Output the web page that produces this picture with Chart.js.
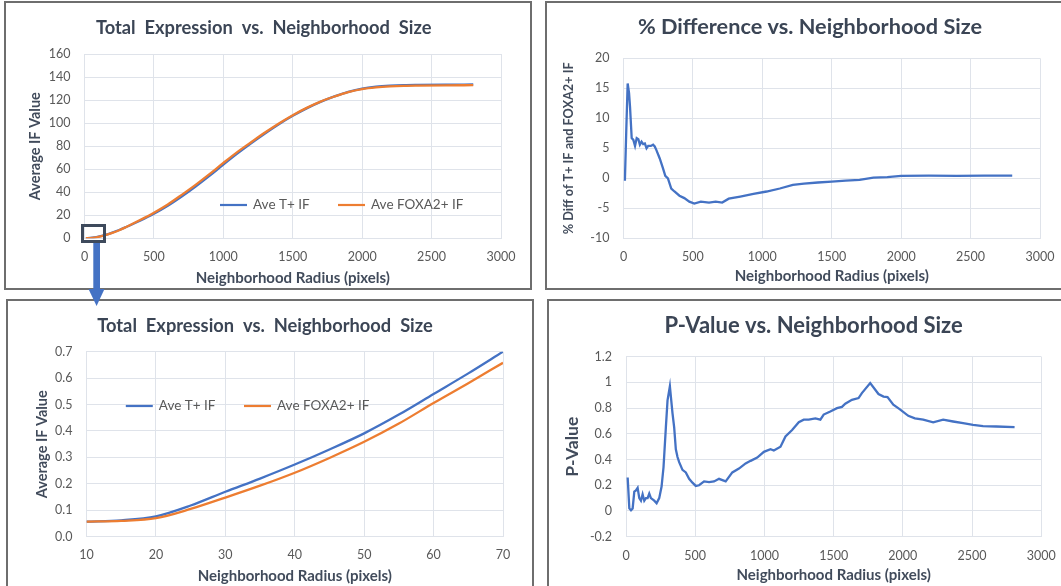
<!DOCTYPE html>
<html>
<head>
<meta charset="utf-8">
<script src="https://cdn.jsdelivr.net/npm/chart.js@4.4.1/dist/chart.umd.min.js"></script>
<style>
  html, body { margin: 0; padding: 0; background: #fff; width: 1061px; height: 586px; overflow: hidden; }
  .panel { position: absolute; box-sizing: border-box; border: 2px solid #6e6e6e; background: #fff; }
  .panel canvas { position: absolute; left: 0; top: 0; }
  #overlay { position: absolute; left: 0; top: 0; pointer-events: none; }
</style>
</head>
<body>
<div class="panel" style="left:4px;top:1px;width:528px;height:289px"><canvas id="totalChart" width="524" height="285"></canvas></div>
<div class="panel" style="left:545px;top:1px;width:530px;height:289px"><canvas id="diffChart" width="526" height="285"></canvas></div>
<div class="panel" style="left:6px;top:299px;width:528px;height:300px"><canvas id="zoomChart" width="524" height="296"></canvas></div>
<div class="panel" style="left:547px;top:299px;width:530px;height:300px"><canvas id="pvalChart" width="526" height="296"></canvas></div>
<svg id="overlay" width="1061" height="586">
  <rect x="82.5" y="225.5" width="22" height="16" fill="none" stroke="#3e4a5c" stroke-width="3"></rect>
  <rect x="93.3" y="243" width="6.7" height="47" fill="#4472c4"></rect>
  <polygon points="88.5,289 104.5,289 96.6,306" fill="#4472c4"></polygon>
</svg>
<script>
// Total expression, full range
const TOTAL_RADIUS = [10, 40, 70, 100, 150, 200, 250, 300, 400, 500, 600, 700, 800, 900, 1000, 1100,
  1200, 1300, 1400, 1500, 1600, 1700, 1800, 1900, 2000, 2100, 2200, 2300, 2400, 2600, 2800];
const TOTAL_T = [0.06, 0.27, 0.70, 1.4, 3.0, 5.0, 7.2, 9.8, 15.3, 21.3, 28.2, 36.2, 44.9, 54.2, 64.0, 73.5,
  82.5, 91.0, 99.0, 106.3, 112.8, 118.4, 123.2, 127.2, 130.0, 131.6, 132.5, 133.0, 133.2, 133.4, 133.5];
const TOTAL_FOXA2 = [0.06, 0.24, 0.66, 1.32, 2.84, 4.74, 6.96, 9.78, 15.8, 22.2, 29.35, 37.7, 46.4, 55.7, 65.4, 74.8,
  83.4, 91.8, 99.7, 106.9, 113.25, 118.7, 123.1, 126.95, 129.5, 131.0, 131.9, 132.4, 132.6, 132.8, 132.9];

// Total expression, 10-70 px close-up
const ZOOM_RADIUS = [10, 15, 20, 25, 30, 35, 40, 45, 50, 55, 60, 65, 70];
const ZOOM_T = [0.057, 0.062, 0.077, 0.118, 0.170, 0.220, 0.273, 0.330, 0.391, 0.462, 0.540, 0.618, 0.700];
const ZOOM_FOXA2 = [0.057, 0.060, 0.070, 0.105, 0.148, 0.193, 0.242, 0.298, 0.359, 0.428, 0.506, 0.581, 0.658];

// % difference
const DIFF_RADIUS = [10, 20, 30, 40, 47, 59, 71, 83, 95, 107, 118, 130, 142, 154, 166, 178, 197, 213, 225, 237,
  261, 284, 301, 320, 344, 367, 403, 438, 474, 510, 557, 616, 664, 711, 758, 841, 936, 1031, 1126, 1220,
  1300, 1400, 1500, 1600, 1700, 1800, 1900, 2000, 2200, 2400, 2600, 2800];
const DIFF_PCT = [-0.4, 8.0, 15.8, 14.2, 11.9, 6.7, 6.4, 5.4, 6.7, 6.5, 5.6, 6.1, 5.7, 5.8, 5.0, 5.4, 5.4, 5.6, 5.3, 4.7,
  3.3, 1.7, 0.4, 0.0, -1.7, -2.2, -2.9, -3.3, -3.9, -4.2, -3.9, -4.05, -3.9, -4.05, -3.4, -3.05, -2.6, -2.2, -1.7, -1.1,
  -0.9, -0.7, -0.55, -0.4, -0.25, 0.1, 0.2, 0.4, 0.45, 0.4, 0.45, 0.45];

// P-value
const PVAL_RADIUS = [12, 24, 36, 48, 60, 72, 84, 96, 108, 120, 132, 144, 156, 168, 180, 204, 221, 240, 257, 271,
  288, 300, 317, 336, 348, 360, 372, 384, 408, 432, 456, 480, 504, 528, 564, 600, 636, 672, 720, 768,
  816, 864, 900, 948, 996, 1044, 1068, 1116, 1152, 1200, 1248, 1284, 1320, 1368, 1404, 1428, 1476, 1524,
  1560, 1584, 1632, 1680, 1704, 1764, 1824, 1860, 1889, 1931, 1979, 2039, 2087, 2147, 2219, 2291, 2363,
  2435, 2507, 2579, 2675, 2807];
const PVAL = [0.26, 0.02, 0.005, 0.02, 0.15, 0.16, 0.18, 0.10, 0.08, 0.13, 0.08, 0.10, 0.10, 0.135, 0.10, 0.08, 0.06, 0.10, 0.19, 0.34,
  0.65, 0.86, 0.97, 0.76, 0.65, 0.48, 0.42, 0.38, 0.32, 0.30, 0.25, 0.22, 0.195, 0.20, 0.23, 0.225, 0.23, 0.25, 0.23, 0.30,
  0.33, 0.37, 0.39, 0.415, 0.46, 0.48, 0.47, 0.50, 0.58, 0.63, 0.69, 0.71, 0.71, 0.72, 0.71, 0.75, 0.774, 0.80,
  0.81, 0.834, 0.865, 0.878, 0.917, 0.995, 0.91, 0.89, 0.886, 0.826, 0.79, 0.74, 0.72, 0.71, 0.69, 0.71, 0.696,
  0.683, 0.67, 0.66, 0.657, 0.652];

// axis ticks
const RADIUS_TICKS = [0, 500, 1000, 1500, 2000, 2500, 3000];
const ZOOM_RADIUS_TICKS = [10, 20, 30, 40, 50, 60, 70];
const TOTAL_Y_TICKS = [0, 20, 40, 60, 80, 100, 120, 140, 160];
const ZOOM_Y_TICKS = [0, 0.1, 0.2, 0.3, 0.4, 0.5, 0.6, 0.7];
const ZOOM_Y_LABELS = ['0.0', '0.1', '0.2', '0.3', '0.4', '0.5', '0.6', '0.7'];
const DIFF_Y_TICKS = [-10, -5, 0, 5, 10, 15, 20];
const PVAL_Y_TICKS = [-0.2, 0, 0.2, 0.4, 0.6, 0.8, 1, 1.2];
const PVAL_Y_LABELS = ['-0.2', '0', '0.2', '0.4', '0.6', '0.8', '1', '1.2'];

const FONT = 'Lato, "Open Sans", sans-serif';
const TITLE_COLOR = '#3b4555';
const AXIS_TITLE_COLOR = '#414b5b';
const TICK_COLOR = '#595959';
const GRID_COLOR = '#dfe3ea';
const BLUE = '#4472c4';
const ORANGE = '#ed7d31';
const TICK_SIZE = 12.5;
const X_TITLE_SIZE = 15;

function toPoints(xs, ys) {
  return xs.map((x, i) => ({ x, y: ys[i] }));
}

// chart title placed at a fixed spot, and a legend drawn inside the plot area
const panelDecor = {
  id: 'panelDecor',
  afterDraw(chart, args, opts) {
    const { ctx, chartArea } = chart;
    ctx.save();
    ctx.textBaseline = 'middle';
    ctx.textAlign = 'center';
    ctx.fillStyle = TITLE_COLOR;
    ctx.font = 'bold ' + opts.titleSize + 'px ' + FONT;
    ctx.fillText(opts.title, opts.titleX, opts.titleY);

    if (opts.legend) {
      const lg = opts.legend;
      const y = chartArea.top + lg.y;
      ctx.textAlign = 'left';
      ctx.font = lg.size + 'px ' + FONT;
      ctx.fillStyle = TICK_COLOR;
      for (const item of lg.items) {
        const ds = chart.data.datasets[item.dataset];
        const x = chartArea.left + item.x;
        ctx.strokeStyle = ds.borderColor;
        ctx.lineWidth = 2.2;
        ctx.beginPath();
        ctx.moveTo(x, y);
        ctx.lineTo(x + 27, y);
        ctx.stroke();
        ctx.fillText(ds.label, x + 33, y);
      }
    }
    ctx.restore();
  },
};

function lineSet(label, xs, ys, color, order, smooth) {
  return {
    label,
    data: toPoints(xs, ys),
    borderColor: color,
    backgroundColor: color,
    borderWidth: 2.3,
    pointRadius: 0,
    order,
    cubicInterpolationMode: smooth ? 'monotone' : 'default',
    tension: 0,
  };
}

function makePanel(canvasId, p) {
  const canvas = document.getElementById(canvasId);
  const w = canvas.width;
  const h = canvas.height;
  const a = p.area;
  const tickLh = TICK_SIZE * 1.2;
  const xTitleLh = X_TITLE_SIZE * 1.2;
  const yTitleLh = p.yTitleSize * 1.2;

  // eslint-disable-next-line no-new
  new Chart(canvas, {
    type: 'line',
    data: { datasets: p.datasets },
    plugins: [panelDecor],
    options: {
      responsive: false,
      animation: false,
      events: [],
      layout: { padding: { left: 0, top: a.top, right: w - a.right, bottom: 0 } },
      plugins: {
        legend: { display: false },
        tooltip: { enabled: false },
        title: { display: false },
        panelDecor: {
          title: p.title,
          titleSize: p.titleSize,
          titleX: p.titleX,
          titleY: p.titleY,
          legend: p.legend || null,
        },
      },
      scales: {
        x: {
          type: 'linear',
          min: p.xTicks[0],
          max: p.xTicks[p.xTicks.length - 1],
          afterBuildTicks: (s) => { s.ticks = p.xTicks.map((v) => ({ value: v })); },
          afterFit: (s) => { s.height = h - a.bottom; },
          grid: { color: GRID_COLOR, drawTicks: false },
          border: { color: GRID_COLOR },
          ticks: {
            color: TICK_COLOR,
            font: { family: FONT, size: TICK_SIZE },
            padding: p.xTickGap - tickLh / 2,
            maxRotation: 0,
            callback: (v) => String(v),
          },
          title: {
            display: true,
            text: 'Neighborhood Radius (pixels)',
            color: AXIS_TITLE_COLOR,
            font: { family: FONT, size: X_TITLE_SIZE, weight: 'bold' },
            padding: { top: 0, bottom: h - a.bottom - p.xTitleGap - xTitleLh / 2 },
          },
        },
        y: {
          type: 'linear',
          min: p.yTicks[0],
          max: p.yTicks[p.yTicks.length - 1],
          afterBuildTicks: (s) => { s.ticks = p.yTicks.map((v) => ({ value: v })); },
          afterFit: (s) => { s.width = a.left; },
          grid: { color: GRID_COLOR, drawTicks: false },
          border: { color: GRID_COLOR },
          ticks: {
            color: TICK_COLOR,
            font: { family: FONT, size: TICK_SIZE },
            padding: 14,
            callback: (v, i) => (p.yLabels ? p.yLabels[i] : String(v)),
          },
          title: {
            display: true,
            text: p.yTitle,
            color: AXIS_TITLE_COLOR,
            font: { family: FONT, size: p.yTitleSize, weight: 'bold' },
            padding: { top: p.yTitleX - yTitleLh / 2, bottom: 0 },
          },
        },
      },
    },
  });
}

document.addEventListener('DOMContentLoaded', () => {
  makePanel('totalChart', {
    title: 'Total  Expression  vs.  Neighborhood  Size',
    titleSize: 18.3,
    titleX: 257.7,
    titleY: 25,
    area: { left: 78.5, top: 51, right: 495, bottom: 235.3 },
    xTickGap: 18.7,
    xTitleGap: 39.7,
    yTitle: 'Average IF Value',
    yTitleSize: 14.5,
    yTitleX: 29.5,
    xTicks: RADIUS_TICKS,
    yTicks: TOTAL_Y_TICKS,
    datasets: [
      lineSet('Ave T+ IF', TOTAL_RADIUS, TOTAL_T, BLUE, 1, true),
      lineSet('Ave FOXA2+ IF', TOTAL_RADIUS, TOTAL_FOXA2, ORANGE, 0, true),
    ],
    legend: { y: 151, size: 13.5, items: [{ dataset: 0, x: 135.5 }, { dataset: 1, x: 253.5 }] },
  });

  makePanel('diffChart', {
    title: '% Difference vs. Neighborhood Size',
    titleSize: 21.7,
    titleX: 263,
    titleY: 24,
    area: { left: 76.5, top: 55.3, right: 493, bottom: 235.3 },
    xTickGap: 19,
    xTitleGap: 37.7,
    yTitle: '% Diff of T+ IF and FOXA2+ IF',
    yTitleSize: 12.7,
    yTitleX: 22,
    xTicks: RADIUS_TICKS,
    yTicks: DIFF_Y_TICKS,
    datasets: [lineSet('% Diff', DIFF_RADIUS, DIFF_PCT, BLUE, 0, false)],
  });

  makePanel('zoomChart', {
    title: 'Total  Expression  vs.  Neighborhood  Size',
    titleSize: 18.3,
    titleX: 257,
    titleY: 25,
    area: { left: 78.5, top: 50.7, right: 495, bottom: 235.7 },
    xTickGap: 18.3,
    xTitleGap: 39,
    yTitle: 'Average IF Value',
    yTitleSize: 14.5,
    yTitleX: 34,
    xTicks: ZOOM_RADIUS_TICKS,
    yTicks: ZOOM_Y_TICKS,
    yLabels: ZOOM_Y_LABELS,
    datasets: [
      lineSet('Ave T+ IF', ZOOM_RADIUS, ZOOM_T, BLUE, 1, true),
      lineSet('Ave FOXA2+ IF', ZOOM_RADIUS, ZOOM_FOXA2, ORANGE, 0, true),
    ],
    legend: { y: 54.3, size: 13.5, items: [{ dataset: 0, x: 39.3 }, { dataset: 1, x: 157.5 }] },
  });

  makePanel('pvalChart', {
    title: 'P-Value vs. Neighborhood Size',
    titleSize: 22,
    titleX: 264.6,
    titleY: 25,
    area: { left: 77, top: 55.7, right: 492.3, bottom: 235.7 },
    xTickGap: 19.3,
    xTitleGap: 38.3,
    yTitle: 'P-Value',
    yTitleSize: 17.5,
    yTitleX: 23,
    xTicks: RADIUS_TICKS,
    yTicks: PVAL_Y_TICKS,
    yLabels: PVAL_Y_LABELS,
    datasets: [lineSet('P-Value', PVAL_RADIUS, PVAL, BLUE, 0, false)],
  });
});
</script>
</body>
</html>
